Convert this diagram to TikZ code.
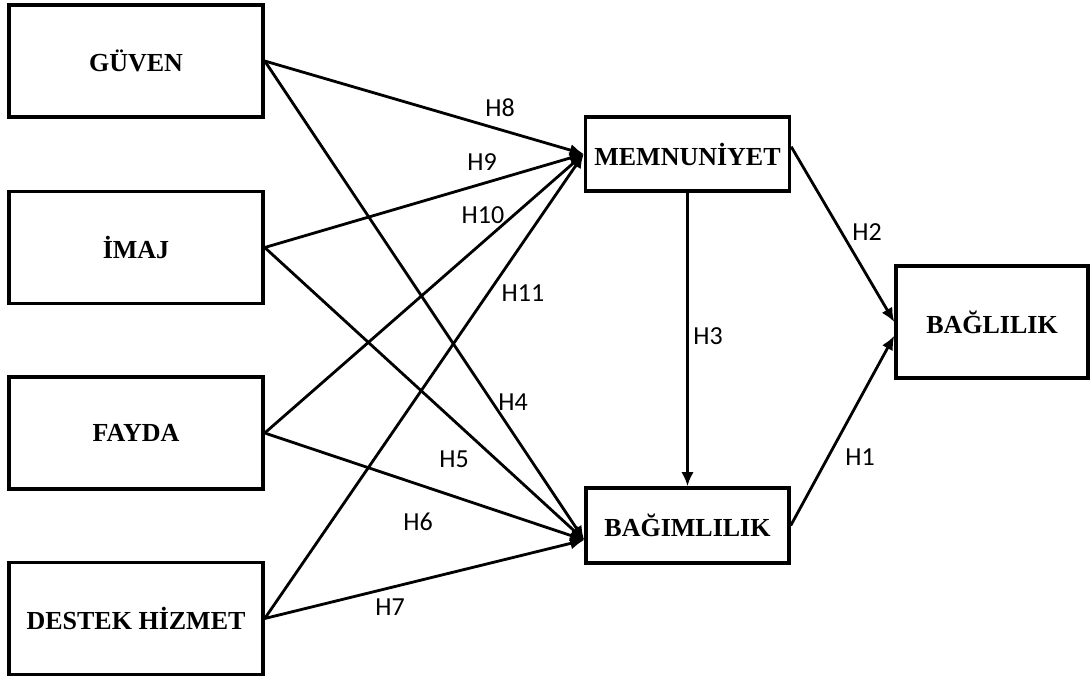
\documentclass[tikz,border=0pt]{standalone}
\usepackage{fontspec}
\setmainfont{Liberation Serif}
\newfontfamily\hlabelfont{Carlito}
\usetikzlibrary{arrows.meta}

\tikzset{
  varbox/.style={draw, line width=2pt, minimum width=5.08cm, minimum height=2.24cm,
    inner sep=0pt, font=\fontsize{14.8pt}{17pt}\selectfont\bfseries},
  hyp/.style={line width=1.6pt, -{Latex[length=8pt,width=7pt]}},
  hlabel/.style={font=\hlabelfont\fontsize{14.8pt}{17pt}\selectfont, inner sep=0pt}
}

\begin{document}
\begin{tikzpicture}[x=0.02cm, y=-0.02cm]
\useasboundingbox (0, 0) rectangle (1090, 677);

\node [varbox] (guven) at (136, 61) {GÜVEN};
\node [varbox] (imaj) at (136, 247.5) {İMAJ};
\node [varbox] (fayda) at (136, 433) {FAYDA};
\node [varbox] (destek) at (136, 618.5) {DESTEK HİZMET};
\node [varbox, minimum width=4.08cm, minimum height=1.48cm] (memn) at (687.5, 154) {MEMNUNİYET};
\node [varbox, minimum width=4.06cm, minimum height=1.5cm] (bagim) at (687.5, 525.5) {BAĞIMLILIK};
\node [varbox, minimum width=3.84cm, minimum height=2.24cm] (bagli) at (992, 322) {BAĞLILIK};

% to MEMNUNIYET
\draw [hyp] (guven.east) -- (memn.west);
\draw [hyp] (imaj.east) -- (memn.west);
\draw [hyp] (fayda.east) -- (memn.west);
\draw [hyp] (destek.east) -- (memn.west);
% to BAGIMLILIK
\draw [hyp] (guven.east) -- (bagim.188);
\draw [hyp] (imaj.east) -- (bagim.188);
\draw [hyp] (fayda.east) -- (bagim.188);
\draw [hyp] (destek.east) -- (bagim.188);
% mediators
\draw [hyp] (memn.south) -- (bagim.north);
\draw [hyp] (memn.4) -- (bagli.west);
\draw [hyp] (bagim.east) -- (bagli.188);

\node [hlabel] (h8) at (500, 108) {H8};
\node [hlabel] (h9) at (482, 162) {H9};
\node [hlabel] (h10) at (483, 215) {H10};
\node [hlabel] (h11) at (523, 293) {H11};
\node [hlabel] (h4) at (513, 402) {H4};
\node [hlabel] (h5) at (454, 459) {H5};
\node [hlabel] (h6) at (418, 522) {H6};
\node [hlabel] (h7) at (390, 607) {H7};
\node [hlabel] (h2) at (867, 232) {H2};
\node [hlabel] (h3) at (708, 336) {H3};
\node [hlabel] (h1) at (860, 457) {H1};
\end{tikzpicture}
\end{document}
